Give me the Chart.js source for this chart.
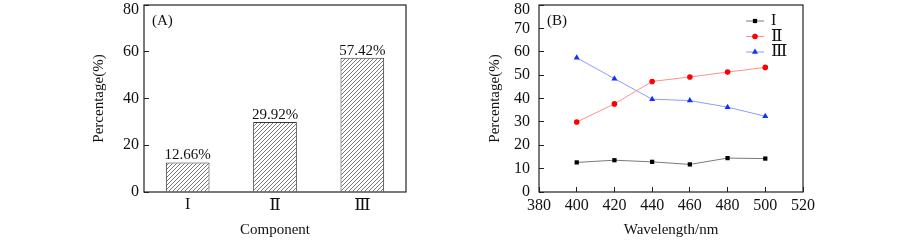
<!DOCTYPE html>
<html>
<head>
<meta charset="utf-8">
<script src="https://cdn.jsdelivr.net/npm/chart.js@4"></script>
<style>
  body { margin: 0; background: #fff; }
  .panel { position: absolute; top: 0; width: 450px; height: 249px; }
</style>
</head>
<body>
<div class="panel" style="left:0"><canvas id="chartA" width="450" height="249"></canvas></div>
<div class="panel" style="left:450px"><canvas id="chartB" width="450" height="249"></canvas></div>
<script>
// panel A: share of each component
const categories = ['I', 'Ⅱ', 'Ⅲ'];
const componentShare = [12.66, 29.92, 57.42];
const yTicksA = [0, 20, 40, 60, 80];

// panel B: share vs wavelength
const wavelengths = [400, 420, 440, 460, 480, 500];
const seriesI = [12.66, 13.6, 12.9, 11.8, 14.5, 14.3];
const seriesII = [29.92, 37.7, 47.3, 49.2, 51.3, 53.3];
const seriesIII = [57.42, 48.5, 39.7, 39.1, 36.3, 32.4];
const seriesNames = ['I', 'Ⅱ', 'Ⅲ'];
const yTicksB = [0, 10, 20, 30, 40, 50, 60, 70, 80];
const xTicksB = [380, 400, 420, 440, 460, 480, 500, 520];

const FONT = "'Liberation Serif', 'DejaVu Serif', serif";
Chart.defaults.font.family = FONT;
Chart.defaults.font.size = 15;
Chart.defaults.color = '#111';

// roman numeral glyphs come from a fallback font and look small, bump them
const romanSize = txt => /^[\x00-\x7f]*$/.test(txt) ? 16 : 17;

function hatchPattern() {
    const s = 4;
    const c = document.createElement('canvas');
    c.width = s; c.height = s;
    const g = c.getContext('2d');
    g.fillStyle = '#fff';
    g.fillRect(0, 0, s, s);
    g.strokeStyle = '#6a6a6a';
    g.lineWidth = 0.9;
    g.beginPath();
    g.moveTo(0, s); g.lineTo(s, 0);
    g.moveTo(-1, 1); g.lineTo(1, -1);
    g.moveTo(s - 1, s + 1); g.lineTo(s + 1, s - 1);
    g.stroke();
    return g.createPattern(c, 'repeat');
}

// full frame around the plot area, the panel tag, and the top y label
// (pushed a bit down so it is not cut by the canvas edge)
const frame = {
    id: 'frame',
    afterDraw(chart, args, opts) {
        const { ctx, chartArea: a } = chart;
        const y = chart.scales.y;
        ctx.save();
        ctx.strokeStyle = '#222';
        ctx.lineWidth = 1.2;
        ctx.strokeRect(a.left, a.top, a.right - a.left, a.bottom - a.top);
        ctx.fillStyle = '#111';
        ctx.font = '15px ' + FONT;
        ctx.textBaseline = 'middle';
        ctx.fillText(opts.tag, a.left + 8, a.top + 16);
        ctx.font = '16px ' + FONT;
        ctx.textAlign = 'right';
        ctx.fillText(String(y.max), a.left - opts.labelGap, y.getPixelForValue(y.max) + 5);
        ctx.restore();
    }
};

const barLabels = {
    id: 'barLabels',
    afterDatasetsDraw(chart) {
        const { ctx } = chart;
        const meta = chart.getDatasetMeta(0);
        ctx.save();
        ctx.fillStyle = '#111';
        ctx.font = '15px ' + FONT;
        ctx.textAlign = 'center';
        ctx.textBaseline = 'alphabetic';
        meta.data.forEach((bar, i) => {
            ctx.fillText(componentShare[i].toFixed(2) + '%', bar.x, bar.y - 3);
        });
        ctx.restore();
    }
};

// legend with a line segment through the marker
const lineLegend = {
    id: 'lineLegend',
    afterDraw(chart) {
        const { ctx, chartArea: a } = chart;
        ctx.save();
        ctx.textBaseline = 'middle';
        chart.data.datasets.forEach((ds, i) => {
            const y = a.top + 16 + i * 15.5;
            ctx.strokeStyle = ds.borderColor;
            ctx.lineWidth = 1;
            ctx.beginPath();
            ctx.moveTo(a.right - 57, y);
            ctx.lineTo(a.right - 39, y);
            ctx.stroke();
            ctx.fillStyle = ds.pointBackgroundColor;
            ctx.strokeStyle = ds.pointBackgroundColor;
            Chart.helpers.drawPoint(ctx, {
                pointStyle: ds.pointStyle,
                radius: ds.pointRadius,
                borderWidth: 0
            }, a.right - 48, y);
            ctx.fillStyle = '#111';
            ctx.font = romanSize(ds.label) + 'px ' + FONT;
            ctx.fillText(ds.label, a.right - 32, y);
        });
        ctx.restore();
    }
};

const axisLine = { drawOnChartArea: false, drawTicks: true, tickLength: -5, color: '#222', lineWidth: 1 };
const noEdgePad = s => { s.paddingTop = 0; s.paddingBottom = 0; s.paddingLeft = 0; s.paddingRight = 0; };
// top label is drawn by the frame plugin instead
const skipTop = max => v => v === max ? '' : String(v);

new Chart(document.getElementById('chartA'), {
    type: 'bar',
    data: {
        labels: categories,
        datasets: [{
            data: componentShare,
            backgroundColor: hatchPattern(),
            borderColor: '#333',
            borderWidth: 1,
            barPercentage: 0.5,
            categoryPercentage: 1
        }]
    },
    options: {
        responsive: false,
        animation: false,
        layout: { padding: { left: 88, right: 44, top: 5, bottom: 0 } },
        plugins: { legend: { display: false }, tooltip: { enabled: false }, frame: { tag: '(A)', labelGap: 5 } },
        scales: {
            x: {
                grid: { display: false, drawTicks: false },
                border: { display: false },
                ticks: {
                    padding: 3,
                    font: c => ({ size: romanSize(categories[c.index] || '') })
                },
                title: { display: true, text: 'Component', padding: { top: 0, bottom: 10 } },
                afterFit: s => { s.height = 57; noEdgePad(s); }
            },
            y: {
                min: yTicksA[0],
                max: yTicksA[yTicksA.length - 1],
                ticks: {
                    stepSize: yTicksA[1] - yTicksA[0], padding: 10, font: { size: 16 },
                    callback: skipTop(yTicksA[yTicksA.length - 1])
                },
                grid: axisLine,
                border: { display: false },
                title: { display: true, text: 'Percentage(%)', padding: { top: 2, bottom: 0 } },
                afterFit: s => { s.width = 56; noEdgePad(s); }
            }
        }
    },
    plugins: [frame, barLabels]
});

const toPoints = vals => wavelengths.map((w, i) => ({ x: w, y: vals[i] }));

new Chart(document.getElementById('chartB'), {
    type: 'line',
    data: {
        datasets: [
            {
                label: seriesNames[0], data: toPoints(seriesI),
                borderColor: '#7a7a7a', borderWidth: 1,
                pointStyle: 'rect', pointRadius: 3,
                pointBackgroundColor: '#000', pointBorderWidth: 0
            },
            {
                label: seriesNames[1], data: toPoints(seriesII),
                borderColor: '#ff9090', borderWidth: 1,
                pointStyle: 'circle', pointRadius: 2.8,
                pointBackgroundColor: '#ff0000', pointBorderWidth: 0
            },
            {
                label: seriesNames[2], data: toPoints(seriesIII),
                borderColor: '#8c9cff', borderWidth: 1,
                pointStyle: 'triangle', pointRadius: 3.5,
                pointBackgroundColor: '#1030ff', pointBorderWidth: 0
            }
        ]
    },
    options: {
        responsive: false,
        animation: false,
        layout: { padding: { left: 34, right: 97, top: 5, bottom: 0 } },
        plugins: { legend: { display: false }, tooltip: { enabled: false }, frame: { tag: '(B)', labelGap: 9 } },
        scales: {
            x: {
                type: 'linear',
                min: xTicksB[0],
                max: xTicksB[xTicksB.length - 1],
                ticks: { stepSize: xTicksB[1] - xTicksB[0], padding: 9, font: { size: 16 } },
                grid: axisLine,
                border: { display: false },
                title: { display: true, text: 'Wavelength/nm', padding: { top: 0, bottom: 10 } },
                afterFit: s => { s.height = 57; noEdgePad(s); }
            },
            y: {
                min: yTicksB[0],
                max: yTicksB[yTicksB.length - 1],
                ticks: {
                    stepSize: yTicksB[1] - yTicksB[0], padding: 14, font: { size: 16 },
                    callback: skipTop(yTicksB[yTicksB.length - 1])
                },
                grid: axisLine,
                border: { display: false },
                title: { display: true, text: 'Percentage(%)', padding: { top: 2, bottom: 0 } },
                afterFit: s => { s.width = 55; noEdgePad(s); }
            }
        }
    },
    plugins: [frame, lineLegend]
});
</script>
</body>
</html>
